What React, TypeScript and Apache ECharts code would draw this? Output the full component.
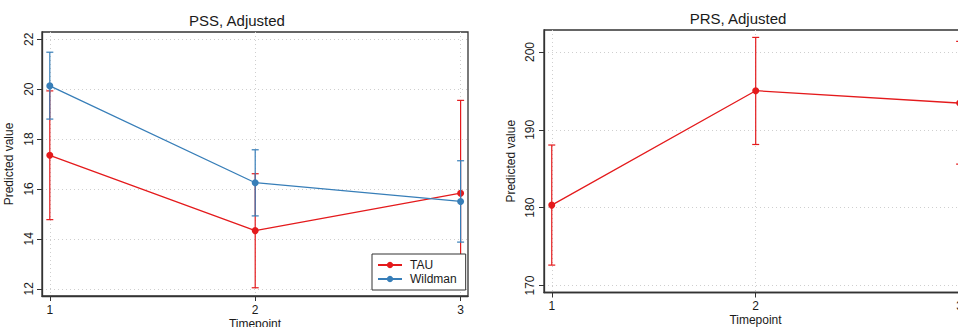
import React, { useEffect, useRef } from "react";
import * as echarts from "echarts";

const timepoints = [1, 2, 3];
const pssTau = [17.35, 14.33, 15.83];
const pssTauLow = [14.77, 12.04, 12.11];
const pssTauHigh = [19.93, 16.61, 19.55];
const pssWild = [20.13, 16.25, 15.5];
const pssWildLow = [18.8, 14.92, 13.87];
const pssWildHigh = [21.48, 17.57, 17.13];
const prsTau = [180.33, 195.03, 193.44];
const prsTauLow = [172.62, 188.12, 185.6];
const prsTauHigh = [188.05, 201.88, 201.37];
const pssTicks = [12, 14, 16, 18, 20, 22];
const prsTicks = [170, 180, 190, 200];

const RED = "#e41a1c";
const BLUE = "#377eb8";
const FONT = "Liberation Sans, Arial, sans-serif";
const TXT = "#1a1a1a";
const AX = "#333";
const GRIDLINE = { type: [1, 3], color: "#cfcfcf", width: 1 };

function errorBars(color: string) {
  return (params: any, api: any) => {
    const x = api.value(0);
    const lo = api.coord([x, api.value(1)]);
    const hi = api.coord([x, api.value(2)]);
    const w = 3.5;
    const style = { stroke: color, lineWidth: 1.2 };
    return {
      type: "group",
      children: [
        { type: "line", shape: { x1: lo[0], y1: lo[1], x2: hi[0], y2: hi[1] }, style },
        { type: "line", shape: { x1: lo[0] - w, y1: lo[1], x2: lo[0] + w, y2: lo[1] }, style },
        { type: "line", shape: { x1: hi[0] - w, y1: hi[1], x2: hi[0] + w, y2: hi[1] }, style },
      ],
    };
  };
}

function xAxisCfg(gridIndex: number, nameGap: number, margin: number) {
  return {
    type: "value",
    gridIndex,
    min: 0.962,
    max: 3.036,
    name: "Timepoint",
    nameLocation: "middle",
    nameGap,
    nameMoveOverlap: false,
    nameTextStyle: { fontFamily: FONT, fontSize: 12, lineHeight: 12, color: TXT },
    axisLine: { show: true, lineStyle: { color: AX, width: 1.3 } },
    axisTick: { show: true, length: 5, lineStyle: { color: AX }, customValues: timepoints },
    axisLabel: {
      customValues: timepoints,
      margin,
      fontFamily: FONT,
      fontSize: 12,
      lineHeight: 12,
      color: TXT,
      formatter: (v: number) => String(Math.round(v)),
    },
    splitLine: { show: true, lineStyle: GRIDLINE },
  };
}

function yAxisCfg(gridIndex: number, min: number, max: number, ticks: number[], margin: number) {
  return {
    type: "value",
    gridIndex,
    min,
    max,
    name: "Predicted value",
    nameLocation: "middle",
    nameGap: 27,
    nameRotate: 90,
    nameMoveOverlap: false,
    nameTextStyle: { fontFamily: FONT, fontSize: 12, color: TXT },
    axisLine: { show: true, lineStyle: { color: AX, width: 1.3 } },
    axisTick: { show: true, length: 5, lineStyle: { color: AX }, customValues: ticks },
    axisLabel: {
      customValues: ticks,
      rotate: 90,
      margin,
      fontFamily: FONT,
      fontSize: 12,
      color: TXT,
    },
    splitLine: { show: true, lineStyle: GRIDLINE },
  };
}

export default function App() {
  const ref = useRef<HTMLDivElement>(null);
  useEffect(() => {
    if (!ref.current) return;
    const chart = echarts.init(ref.current, null, { renderer: "svg" });
    const tauPss = timepoints.map((t, i) => [t, pssTau[i]]);
    const wildPss = timepoints.map((t, i) => [t, pssWild[i]]);
    const tauPrs = timepoints.map((t, i) => [t, prsTau[i]]);
    const tauPssErr = timepoints.map((t, i) => [t, pssTauLow[i], pssTauHigh[i]]);
    const wildPssErr = timepoints.map((t, i) => [t, pssWildLow[i], pssWildHigh[i]]);
    const tauPrsErr = timepoints.map((t, i) => [t, prsTauLow[i], prsTauHigh[i]]);

    chart.setOption({
      animation: false,
      backgroundColor: "#fff",
      textStyle: { fontFamily: FONT },
      title: [
        {
          text: "PSS, Adjusted",
          left: 237,
          top: 13,
          textAlign: "center",
          textStyle: { fontFamily: FONT, fontSize: 15, fontWeight: "normal", color: TXT },
          padding: 0,
        },
        {
          text: "PRS, Adjusted",
          left: 738,
          top: 11,
          textAlign: "center",
          textStyle: { fontFamily: FONT, fontSize: 15, fontWeight: "normal", color: TXT },
          padding: 0,
        },
      ],
      legend: {
        data: ["TAU", "Wildman"],
        orient: "vertical",
        left: 372,
        top: 254,
        padding: [5, 9, 5, 5],
        itemGap: 2,
        itemWidth: 24,
        itemHeight: 8,
        borderColor: AX,
        borderWidth: 1,
        borderRadius: 0,
        backgroundColor: "#fff",
        textStyle: { fontFamily: FONT, fontSize: 12, color: TXT, padding: [0, 0, 0, 3] },
        selectedMode: false,
        z: 10,
      },
      grid: [
        {
          left: 42, top: 32, width: 426, height: 264, show: true,
          borderColor: AX, borderWidth: 1.3, backgroundColor: "transparent",
          outerBoundsMode: "none", containLabel: false,
        },
        {
          left: 544, top: 30, width: 423, height: 262.5, show: true,
          borderColor: AX, borderWidth: 1.3, backgroundColor: "transparent",
          outerBoundsMode: "none", containLabel: false,
        },
      ],
      xAxis: [xAxisCfg(0, 22, 8), xAxisCfg(1, 21, 7)],
      yAxis: [yAxisCfg(0, 11.71, 22.29, pssTicks, 7), yAxisCfg(1, 169.1, 202.83, prsTicks, 8)],
      series: [
        {
          type: "custom",
          name: "TAU CI",
          xAxisIndex: 0,
          yAxisIndex: 0,
          data: tauPssErr,
          encode: { x: 0, y: [1, 2] },
          renderItem: errorBars(RED),
          z: 1,
          silent: true,
        },
        {
          type: "line",
          name: "TAU",
          xAxisIndex: 0,
          yAxisIndex: 0,
          data: tauPss,
          symbol: "circle",
          symbolSize: 7,
          lineStyle: { color: RED, width: 1.3 },
          itemStyle: { color: RED },
          z: 2,
        },
        {
          type: "custom",
          name: "Wildman CI",
          xAxisIndex: 0,
          yAxisIndex: 0,
          data: wildPssErr,
          encode: { x: 0, y: [1, 2] },
          renderItem: errorBars(BLUE),
          z: 3,
          silent: true,
        },
        {
          type: "line",
          name: "Wildman",
          xAxisIndex: 0,
          yAxisIndex: 0,
          data: wildPss,
          symbol: "circle",
          symbolSize: 7,
          lineStyle: { color: BLUE, width: 1.3 },
          itemStyle: { color: BLUE },
          z: 4,
        },
        {
          type: "custom",
          name: "PRS TAU CI",
          xAxisIndex: 1,
          yAxisIndex: 1,
          data: tauPrsErr,
          encode: { x: 0, y: [1, 2] },
          renderItem: errorBars(RED),
          z: 1,
          silent: true,
          clip: false,
        },
        {
          type: "line",
          name: "PRS TAU",
          xAxisIndex: 1,
          yAxisIndex: 1,
          data: tauPrs,
          symbol: "circle",
          symbolSize: 7,
          lineStyle: { color: RED, width: 1.3 },
          itemStyle: { color: RED },
          z: 2,
          clip: false,
        },
      ],
    });
    return () => chart.dispose();
  }, []);
  return (
    <div
      ref={ref}
      style={{ position: "fixed", left: 0, top: 0, width: 958, height: 327, background: "#fff" }}
    />
  );
}
